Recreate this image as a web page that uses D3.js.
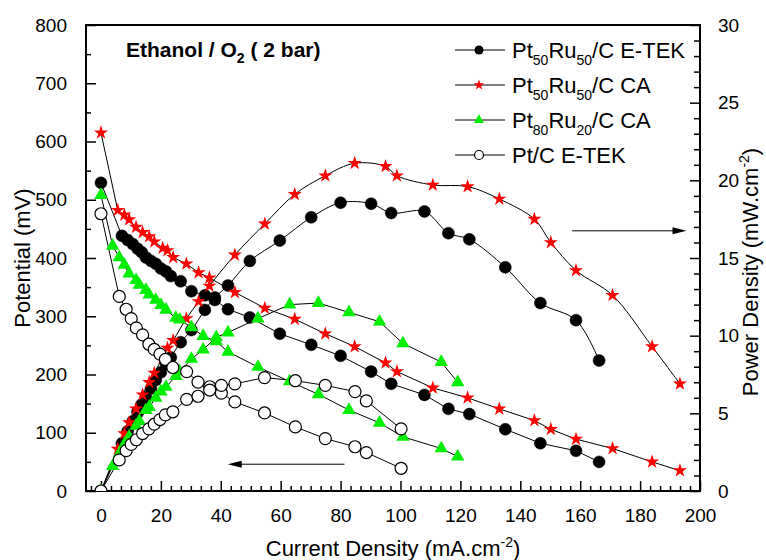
<!DOCTYPE html>
<html>
<head>
<meta charset="utf-8">
<script src="https://cdn.jsdelivr.net/npm/d3@7/dist/d3.min.js"></script>
<style>
  body { margin: 0; background: #fff; }
  text { font-family: "Liberation Sans", Arial, sans-serif; }
</style>
</head>
<body>
<script>
// Pt50Ru50/C E-TEK (filled circles)
var etekPtRuI = [0, 7.0, 8.9, 10.6, 12.2, 13.6, 15.0, 16.7, 18.3, 20.0, 21.7, 23.3, 26.6, 30.2, 34.7, 38.0, 42.4, 49.7, 59.7, 70.2, 80.0, 90.2, 96.9, 108.0, 116.0, 123.0, 135.0, 146.7, 158.6, 166.3];
var etekPtRuV = [529, 438, 431, 424, 416, 410, 401, 395, 390, 382, 377, 369, 360, 343, 336, 328, 312, 298, 270, 251, 232, 205, 184, 165, 141, 132, 106, 82, 69, 50];
var etekPtRuP = [0, 3.07, 3.84, 4.49, 5.08, 5.58, 6.02, 6.6, 7.14, 7.64, 8.18, 8.6, 9.58, 10.36, 11.66, 12.46, 13.23, 14.81, 16.12, 17.62, 18.56, 18.5, 17.9, 18.0, 16.6, 16.2, 14.4, 12.1, 11.0, 8.4];

// Pt50Ru50/C CA (stars)
var caPtRuI = [0, 5.6, 7.8, 9.4, 11.7, 13.9, 16.1, 17.8, 20.6, 22.2, 24.1, 28.5, 32.6, 36.2, 44.7, 54.7, 64.7, 74.9, 84.7, 95.0, 98.8, 110.8, 122.4, 133.0, 144.7, 150.2, 158.6, 170.8, 184.0, 193.3];
var caPtRuV = [615, 482, 474, 466, 453, 444, 437, 428, 417, 413, 401, 390, 375, 366, 341, 314, 295, 270, 248, 220, 205, 177, 160, 141, 121, 106, 89, 73, 50, 35];
var caPtRuP = [0, 2.7, 3.7, 4.4, 5.3, 6.2, 7.0, 7.6, 8.6, 9.2, 9.7, 11.1, 12.2, 13.2, 15.2, 17.2, 19.1, 20.3, 21.1, 20.9, 20.3, 19.7, 19.6, 18.8, 17.5, 16.0, 14.2, 12.6, 9.3, 6.9];

// Pt80Ru20/C CA (triangles)
var caPt80I = [0, 3.9, 6.1, 7.8, 9.4, 11.7, 12.8, 15.0, 16.1, 18.3, 20.0, 21.7, 25.0, 26.3, 30.2, 34.1, 38.5, 42.4, 52.4, 63.0, 72.6, 82.8, 93.0, 100.8, 113.6, 119.1];
var caPt80V = [508, 421, 401, 388, 373, 362, 354, 345, 337, 328, 319, 311, 297, 294, 281, 266, 257, 239, 213, 188, 166, 139, 117, 93, 73, 59];
var caPt80P = [0, 1.6, 2.4, 3.0, 3.5, 4.2, 4.5, 5.2, 5.4, 6.0, 6.4, 6.7, 7.4, 7.7, 8.5, 9.1, 9.9, 10.2, 11.1, 12.0, 12.1, 11.5, 10.9, 9.5, 8.3, 7.0];

// Pt/C E-TEK (open circles)
var etekPtI = [0, 6.1, 8.4, 10.1, 11.8, 13.9, 16.0, 17.8, 19.7, 21.5, 24.0, 28.6, 32.4, 36.3, 40.2, 44.7, 54.6, 64.9, 74.9, 84.8, 88.6, 100.2];
var etekPtV = [476, 334, 312, 296, 280, 268, 252, 243, 235, 226, 212, 205, 187, 179, 168, 153, 134, 110, 90, 76, 66, 39];
var etekPtP = [0, 2.0, 2.6, 3.0, 3.3, 3.7, 4.0, 4.3, 4.6, 4.9, 5.1, 5.9, 6.1, 6.5, 6.8, 6.9, 7.3, 7.1, 6.8, 6.4, 5.8, 4.0];

var xTicks = [0, 20, 40, 60, 80, 100, 120, 140, 160, 180, 200];
var yLeftTicks = [0, 100, 200, 300, 400, 500, 600, 700, 800];
var yRightTicks = [0, 5, 10, 15, 20, 25, 30];

var W = 766, H = 560;
var pLeft = 86, pRight = 700, pTop = 25, pBottom = 491;

var svg = d3.select("body").append("svg")
    .attr("width", W)
    .attr("height", H);

var x = d3.scaleLinear().domain([-5, 200]).range([pLeft, pRight]);
var yL = d3.scaleLinear().domain([0, 800]).range([pBottom, pTop]);
var yR = d3.scaleLinear().domain([0, 30]).range([pBottom, pTop]);

svg.append("defs").append("clipPath").attr("id", "clip")
  .append("rect")
    .attr("x", pLeft).attr("y", pTop)
    .attr("width", pRight - pLeft).attr("height", pBottom - pTop);

// minor tick positions
var xMinor = d3.range(-1, 61).map(function(k) { return k * 10 / 3; })
    .filter(function(v, i) { return (i - 1) % 6 !== 0 && v >= -5 && v <= 200; });
var yLMinor = d3.range(50, 800, 100);
var yRMinor = d3.range(0, 31).filter(function(v) { return v % 5 !== 0; });

function styleAxis(g) {
  g.select(".domain").remove();
  g.selectAll("line").attr("stroke", "#000").attr("stroke-width", 1.5);
  g.selectAll("text").attr("font-size", 19).attr("fill", "#000")
    .attr("font-family", "'Liberation Sans', Arial, sans-serif");
}

// x axis
svg.append("g").attr("transform", "translate(0," + pBottom + ")")
  .call(d3.axisBottom(x).tickValues(xTicks).tickSizeInner(-10).tickSizeOuter(0).tickPadding(18))
  .call(styleAxis);
svg.append("g").attr("transform", "translate(0," + pBottom + ")")
  .call(d3.axisBottom(x).tickValues(xMinor).tickSizeInner(-5).tickSizeOuter(0).tickFormat(""))
  .call(styleAxis);

// left axis
svg.append("g").attr("transform", "translate(" + pLeft + ",0)")
  .call(d3.axisLeft(yL).tickValues(yLeftTicks).tickSizeInner(-10).tickSizeOuter(0).tickPadding(19))
  .call(styleAxis);
svg.append("g").attr("transform", "translate(" + pLeft + ",0)")
  .call(d3.axisLeft(yL).tickValues(yLMinor).tickSizeInner(-5).tickSizeOuter(0).tickFormat(""))
  .call(styleAxis);

// right axis
svg.append("g").attr("transform", "translate(" + pRight + ",0)")
  .call(d3.axisRight(yR).tickValues(yRightTicks).tickSizeInner(-10).tickSizeOuter(0).tickPadding(18))
  .call(styleAxis);
svg.append("g").attr("transform", "translate(" + pRight + ",0)")
  .call(d3.axisRight(yR).tickValues(yRMinor).tickSizeInner(-6).tickSizeOuter(0).tickFormat(""))
  .call(styleAxis);

// frame
svg.append("rect")
    .attr("x", pLeft).attr("y", pTop)
    .attr("width", pRight - pLeft).attr("height", pBottom - pTop)
    .attr("fill", "none").attr("stroke", "#000").attr("stroke-width", 2);

var series = [
  { I: etekPtRuI, V: etekPtRuV, P: etekPtRuP, shape: "circle", fill: "#000", smooth: true },
  { I: caPtRuI, V: caPtRuV, P: caPtRuP, shape: "star", fill: "#ff0000", smooth: true },
  { I: caPt80I, V: caPt80V, P: caPt80P, shape: "triangle", fill: "#00ee00", smooth: false },
  { I: etekPtI, V: etekPtV, P: etekPtP, shape: "open", fill: "#fff", smooth: false }
];

function zipPts(s, vals) {
  return s.I.map(function(d, i) { return [d, vals[i]]; });
}

var plot = svg.append("g").attr("clip-path", "url(#clip)");

var lineV = d3.line().x(function(d) { return x(d[0]); }).y(function(d) { return yL(d[1]); });
var lineP = d3.line().x(function(d) { return x(d[0]); }).y(function(d) { return yR(d[1]); });

series.forEach(function(s) {
  plot.append("path")
    .attr("d", lineV(zipPts(s, s.V)))
    .attr("fill", "none").attr("stroke", "#000").attr("stroke-width", 1);
  plot.append("path")
    .attr("d", lineP.curve(s.smooth ? d3.curveCatmullRom.alpha(0.5) : d3.curveLinear)(zipPts(s, s.P)))
    .attr("fill", "none").attr("stroke", "#000").attr("stroke-width", 1);
});

function drawMarker(g, shape, fill, cx, cy, scale) {
  scale = scale || 1;
  if (shape === "circle" || shape === "open") {
    g.append("circle").attr("cx", cx).attr("cy", cy).attr("r", 6 * scale)
      .attr("fill", fill)
      .attr("stroke", "#000").attr("stroke-width", shape === "open" ? 1.2 : 0.5);
  } else if (shape === "star") {
    g.append("path").attr("d", d3.symbol().type(d3.symbolStar).size(62 * scale * scale)())
      .attr("transform", "translate(" + cx + "," + cy + ")")
      .attr("fill", fill);
  } else {
    g.append("path").attr("d", d3.symbol().type(d3.symbolTriangle).size(78 * scale * scale)())
      .attr("transform", "translate(" + cx + "," + cy + ")")
      .attr("fill", fill);
  }
}

series.forEach(function(s) {
  s.I.forEach(function(d, i) {
    drawMarker(plot, s.shape, s.fill, x(d), yL(s.V[i]));
    drawMarker(plot, s.shape, s.fill, x(d), yR(s.P[i]));
  });
});

// arrows
function arrow(x1, x2, y) {
  var dir = x2 > x1 ? 1 : -1;
  svg.append("line").attr("x1", x1).attr("x2", x2 - dir * 8).attr("y1", y).attr("y2", y)
    .attr("stroke", "#000").attr("stroke-width", 1);
  svg.append("path")
    .attr("d", "M" + x2 + "," + y + "L" + (x2 - dir * 14) + "," + (y - 3.5) + "L" + (x2 - dir * 14) + "," + (y + 3.5) + "Z")
    .attr("fill", "#000");
}
arrow(x(81.3), x(42.3), yL(46));
arrow(x(157.3), x(195.5), yR(16.75));

// title
var title = svg.append("text").attr("x", 126).attr("y", 57)
  .attr("font-size", 21).attr("font-weight", "bold");
title.append("tspan").text("Ethanol / O");
title.append("tspan").attr("font-size", 14).attr("dy", 6).text("2");
title.append("tspan").attr("dy", -6).text(" ( 2 bar)");

// legend
var legendRows = [
  { shape: "circle", fill: "#000", parts: [["Pt"], ["50", 1], ["Ru"], ["50", 1], ["/C E-TEK"]] },
  { shape: "star", fill: "#ff0000", parts: [["Pt"], ["50", 1], ["Ru"], ["50", 1], ["/C CA"]] },
  { shape: "triangle", fill: "#00ee00", parts: [["Pt"], ["80", 1], ["Ru"], ["20", 1], ["/C CA"]] },
  { shape: "open", fill: "#fff", parts: [["Pt/C E-TEK"]] }
];
var legendY = [50, 85, 120, 155];
legendRows.forEach(function(r, i) {
  var ly = legendY[i];
  var g = svg.append("g");
  g.append("line").attr("x1", 455).attr("x2", 505).attr("y1", ly).attr("y2", ly)
    .attr("stroke", "#000").attr("stroke-width", 1);
  if (r.shape === "open") {
    g.append("circle").attr("cx", 479).attr("cy", ly).attr("r", 4.5)
      .attr("fill", "#fff").attr("stroke", "#000").attr("stroke-width", 1.2);
  } else if (r.shape === "circle") {
    g.append("circle").attr("cx", 479).attr("cy", ly).attr("r", 4.5).attr("fill", "#000");
  } else {
    drawMarker(g, r.shape, r.fill, 479, ly, 0.75);
  }
  var t = g.append("text").attr("x", 512).attr("y", ly + 7.5).attr("font-size", 22);
  var sub = false;
  r.parts.forEach(function(p) {
    var ts = t.append("tspan").text(p[0]);
    if (p[1] && !sub) { ts.attr("font-size", 14).attr("dy", 7); sub = true; }
    else if (!p[1] && sub) { ts.attr("dy", -7); sub = false; }
    else if (p[1]) { ts.attr("font-size", 14); }
  });
});

// axis labels
var xl = svg.append("text").attr("x", 393).attr("y", 556)
  .attr("text-anchor", "middle").attr("font-size", 22);
xl.append("tspan").text("Current Density (mA.cm");
xl.append("tspan").attr("font-size", 14).attr("dy", -9).text("-2");
xl.append("tspan").attr("dy", 9).text(")");

svg.append("text")
  .attr("transform", "translate(30,258) rotate(-90)")
  .attr("text-anchor", "middle").attr("font-size", 22)
  .text("Potential (mV)");

var yl = svg.append("text")
  .attr("transform", "translate(758,272) rotate(-90)")
  .attr("text-anchor", "middle").attr("font-size", 22);
yl.append("tspan").text("Power Density (mW.cm");
yl.append("tspan").attr("font-size", 14).attr("dy", -9).text("-2");
yl.append("tspan").attr("dy", 9).text(")");
</script>
</body>
</html>
